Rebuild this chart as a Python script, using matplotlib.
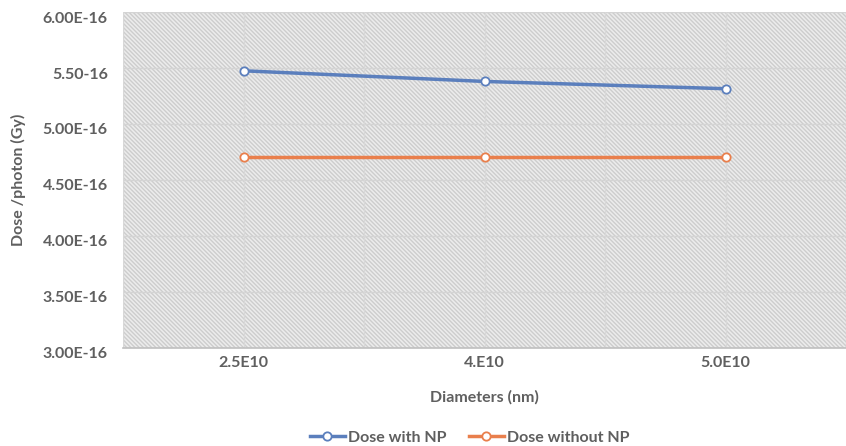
import matplotlib
matplotlib.use("Agg")
import matplotlib.pyplot as plt
import matplotlib.transforms as mtransforms
from matplotlib.patches import Rectangle

# Data
categories = ["2.5E10", "4.E10", "5.0E10"]
dose_with_np = [5.475e-16, 5.38e-16, 5.315e-16]
dose_without_np = [4.705e-16, 4.705e-16, 4.705e-16]
y_ticks = [3.0e-16, 3.5e-16, 4.0e-16, 4.5e-16, 5.0e-16, 5.5e-16, 6.0e-16]
y_tick_labels = ["3.00E-16", "3.50E-16", "4.00E-16", "4.50E-16", "5.00E-16", "5.50-16", "6.00E-16"]

plt.rcParams['font.family'] = ['Lato', 'DejaVu Sans']
plt.rcParams['hatch.color'] = '#cdcdcd'
plt.rcParams['hatch.linewidth'] = 1.0

fig = plt.figure(figsize=(8.46, 4.46), dpi=100)
ax = fig.add_axes([123/846, 98/446, 1 - 123/846, 336/446])

ax.set_facecolor('#ececec')
ax.add_patch(Rectangle((0, 0), 1, 1, transform=ax.transAxes, facecolor='none',
                       edgecolor='#cdcdcd', hatch='\\' * 8, linewidth=0, zorder=0))

x = list(range(len(categories)))
ax.set_xlim(-0.5, len(categories) - 0.5)
ax.set_ylim(3.0e-16, 6.0e-16)

# grid
for yv in y_ticks:
    ax.axhline(yv, color='#d4d4d4', lw=1.0, zorder=1)
for xv in [-0.5, 0, 0.5, 1, 1.5, 2, 2.5]:
    ax.axvline(xv, color='#d8d8d8', lw=1.0, zorder=1)

blue = '#5b7fbd'
orange = '#e97f4c'
ax.plot(x, dose_with_np, color=blue, lw=2.5, marker='o', markersize=6,
        markerfacecolor='white', markeredgecolor=blue, markeredgewidth=1.3,
        label='Dose with NP', zorder=3)
ax.plot(x, dose_without_np, color=orange, lw=2.5, marker='o', markersize=6,
        markerfacecolor='white', markeredgecolor=orange, markeredgewidth=1.3,
        label='Dose without NP', zorder=3)

ax.set_xticks(x)
ax.set_xticklabels(categories)
ax.set_yticks(y_ticks)
ax.set_yticklabels(y_tick_labels)

for s in ['top', 'right', 'left']:
    ax.spines[s].set_visible(False)
ax.spines['bottom'].set_color('#bfbfbf')
ax.spines['bottom'].set_linewidth(1.2)

fs = 11.5
ax.tick_params(axis='both', length=0, colors='#5f5f5f', labelsize=fs)
ax.tick_params(axis='y', pad=11)
ax.tick_params(axis='x', pad=6)
for lab in ax.get_yticklabels() + ax.get_xticklabels():
    lab.set_fontweight('bold')
    lab.set_color('#5f5f5f')

offset = mtransforms.ScaledTranslation(0, -5/100, fig.dpi_scale_trans)
for lab in ax.get_yticklabels():
    lab.set_transform(lab.get_transform() + offset)

ax.set_xlabel('Diameters (nm)', fontsize=fs, fontweight='bold', color='#5f5f5f', labelpad=14)
ax.set_ylabel('Dose /photon (Gy)', fontsize=fs, fontweight='bold', color='#5f5f5f', labelpad=12)

leg = fig.legend(loc='lower center', bbox_to_anchor=(0.555, -0.03), ncol=2, frameon=False,
                 fontsize=fs, handlelength=2.2, columnspacing=1.4, handletextpad=0.2)
for t in leg.get_texts():
    t.set_fontweight('bold')
    t.set_color('#5f5f5f')

fig.savefig('out.png', dpi=100)
